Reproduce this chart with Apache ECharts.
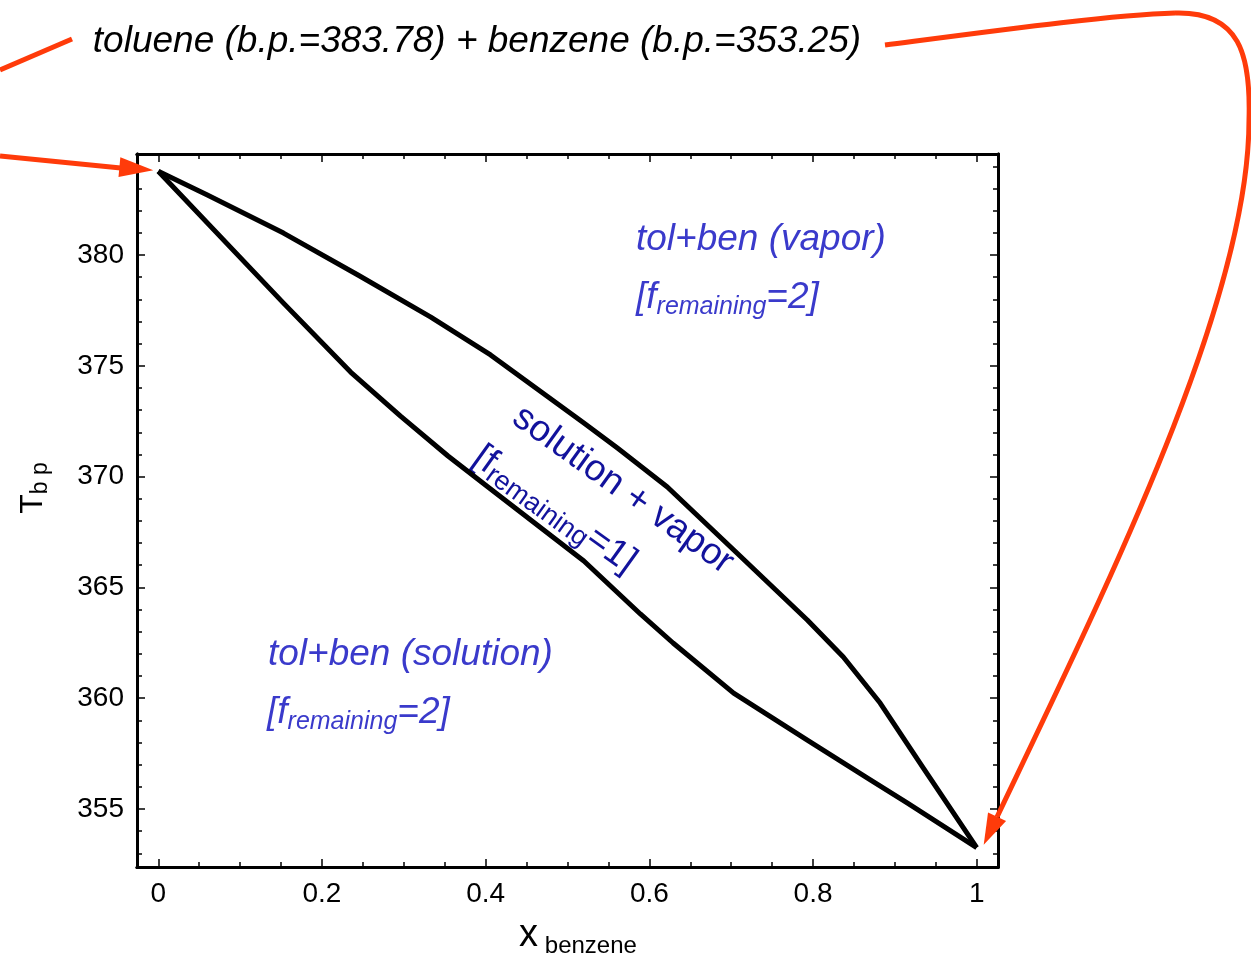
<!DOCTYPE html>
<html lang="en">
<head>
    <meta charset="UTF-8">
    <title>toluene + benzene</title>
    <script src="https://cdn.jsdelivr.net/npm/echarts@6/dist/echarts.min.js"></script>
    <style>
        html, body {
            margin: 0;
            padding: 0;
            background: #fff;
        }

        #chart {
            width: 1251px;
            height: 959px;
        }
    </style>
</head>
<body>
<div id="chart"></div>
<script>
    // liquid (bubble point) curve
    var liquidX = [0, 0.153, 0.235, 0.296, 0.354, 0.406, 0.520, 0.589, 0.629, 0.703, 0.793, 0.870, 0.915, 1]
    var liquidT = [383.78, 377.83, 374.72, 372.73, 370.93, 369.44, 366.19, 363.80, 362.49, 360.23, 358.11, 356.31, 355.27, 353.25]
    // vapor (dew point) curve
    var vaporX = [0, 0.060, 0.153, 0.244, 0.333, 0.406, 0.520, 0.561, 0.622, 0.707, 0.793, 0.837, 0.882, 0.934, 1]
    var vaporT = [383.78, 382.71, 380.99, 379.10, 377.20, 375.49, 372.42, 371.29, 369.53, 366.55, 363.53, 361.86, 359.78, 356.89, 353.25]

    // ticks
    var xMajor = [0, 0.2, 0.4, 0.6, 0.8, 1]
    var xMinor = [0.05, 0.1, 0.15, 0.25, 0.3, 0.35, 0.45, 0.5, 0.55, 0.65, 0.7, 0.75, 0.85, 0.9, 0.95]
    var yMajor = [355, 360, 365, 370, 375, 380]
    var yMinor = [353, 354, 356, 357, 358, 359, 361, 362, 363, 364, 366, 367, 368, 369, 371, 372, 373, 374, 376, 377, 378, 379, 381, 382, 383, 384]

    var xMin = -0.026, xMax = 1.026
    var yMin = 352.38, yMax = 384.56

    var RED = '#ff3b0a'
    var BLUE = '#3a3acb'
    var DARK_BLUE = '#12129c'
    var FONT = 'Liberation Sans, Arial, sans-serif'

    function zip (xs, ys) {
        return xs.map((x, i) => [x, ys[i]])
    }

    function xAxisDef (pos, ticks, len, showLabel) {
        return {
            type: 'value', min: xMin, max: xMax, position: pos,
            axisLine: {show: true, onZero: false, lineStyle: {color: '#000', width: 3}},
            axisTick: {show: true, inside: true, length: len, customValues: ticks, lineStyle: {color: '#000', width: 1.5}},
            axisLabel: {show: showLabel, customValues: ticks, margin: 13, color: '#000', fontSize: 28, fontFamily: FONT},
            splitLine: {show: false}
        }
    }

    function yAxisDef (pos, ticks, len, showLabel) {
        return {
            type: 'value', min: yMin, max: yMax, position: pos,
            axisLine: {show: true, onZero: false, lineStyle: {color: '#000', width: 3}},
            axisTick: {show: true, inside: true, length: len, customValues: ticks, lineStyle: {color: '#000', width: 1.5}},
            axisLabel: {show: showLabel, customValues: ticks, margin: 13, color: '#000', fontSize: 28, fontFamily: FONT},
            splitLine: {show: false}
        }
    }

    var chart = echarts.init(document.getElementById('chart'))
    var option = {
        animation: false,
        backgroundColor: '#fff',
        grid: {left: 137, top: 154, right: 253, bottom: 92, containLabel: false, outerBoundsMode: 'none'},
        xAxis: [
            xAxisDef('bottom', xMajor, 8, true),
            xAxisDef('bottom', xMinor, 5, false),
            xAxisDef('top', xMajor, 8, false),
            xAxisDef('top', xMinor, 5, false)
        ],
        yAxis: [
            yAxisDef('left', yMajor, 8, true),
            yAxisDef('left', yMinor, 5, false),
            yAxisDef('right', yMajor, 8, false),
            yAxisDef('right', yMinor, 5, false)
        ],
        series: [{
            name: 'vapor',
            type: 'line',
            symbol: 'none',
            lineStyle: {color: '#000', width: 5, join: 'round'},
            data: zip(vaporX, vaporT)
        }, {
            name: 'solution',
            type: 'line',
            symbol: 'none',
            lineStyle: {color: '#000', width: 5, join: 'round'},
            data: zip(liquidX, liquidT)
        }]
    }
    chart.setOption(option)

    // arrow head polygon pointing from -> tip
    function arrowHead (tip, from, len, half) {
        var dx = tip[0] - from[0], dy = tip[1] - from[1]
        var d = Math.sqrt(dx * dx + dy * dy)
        var ux = dx / d, uy = dy / d
        var bx = tip[0] - ux * len, by = tip[1] - uy * len
        return {
            type: 'polygon', z: 20,
            shape: {points: [tip, [bx - uy * half, by + ux * half], [bx + uy * half, by - ux * half]]},
            style: {fill: RED}
        }
    }

    function curve (p0, c1, c2, p1) {
        return {
            type: 'bezierCurve', z: 20,
            shape: {x1: p0[0], y1: p0[1], cpx1: c1[0], cpy1: c1[1], cpx2: c2[0], cpy2: c2[1], x2: p1[0], y2: p1[1]},
            style: {stroke: RED, lineWidth: 5, fill: null}
        }
    }

    var tolPt = chart.convertToPixel({xAxisIndex: 0, yAxisIndex: 0}, [vaporX[0], vaporT[0]])
    var benPt = chart.convertToPixel({xAxisIndex: 0, yAxisIndex: 0}, [vaporX[vaporX.length - 1], vaporT[vaporT.length - 1]])
    var tolTip = [tolPt[0] - 5, tolPt[1] - 1]
    var benTip = [benPt[0] + 7, benPt[1] - 3]

    var subRich = function (color, italic, main, sub, subLine) {
        return {
            m: {fontSize: main, fontStyle: italic, fontFamily: FONT, fill: color, color: color, lineHeight: main + 6},
            s: {fontSize: sub, fontStyle: italic, fontFamily: FONT, fill: color, color: color, lineHeight: subLine || 18, verticalAlign: 'bottom'}
        }
    }

    // long arrow from the title round to the benzene end point
    var topPt = [1175, 13]
    var bendPt = [1249, 120]
    var arrowEnd = [997, 817]

    chart.setOption({
        graphic: [
            // title
            {
                type: 'text', x: 477, y: 42, z: 30,
                style: {
                    text: 'toluene (b.p.=383.78) + benzene (b.p.=353.25)',
                    font: 'italic 37px ' + FONT, fill: '#000', align: 'center', verticalAlign: 'middle'
                }
            },
            // y axis title
            {
                type: 'text', x: 33, y: 488, rotation: Math.PI / 2, z: 30,
                style: {
                    text: '{m|T}{s|b p}', align: 'center', verticalAlign: 'middle',
                    rich: subRich('#000', 'normal', 32, 23)
                }
            },
            // x axis title
            {
                type: 'text', x: 578, y: 936, z: 30,
                style: {
                    text: '{m|x}  {s|benzene}', align: 'center', verticalAlign: 'middle',
                    rich: subRich('#000', 'normal', 38, 24)
                }
            },
            // region labels
            {
                type: 'text', x: 636, y: 240, z: 30,
                style: {text: 'tol+ben (vapor)', font: 'italic 37px ' + FONT, fill: BLUE, align: 'left', verticalAlign: 'middle'}
            },
            {
                type: 'text', x: 636, y: 298, z: 30,
                style: {text: '{m|[f}{s|remaining}{m|=2]}', align: 'left', verticalAlign: 'middle', rich: subRich(BLUE, 'italic', 37, 25)}
            },
            {
                type: 'text', x: 268, y: 655, z: 30,
                style: {text: 'tol+ben (solution)', font: 'italic 37px ' + FONT, fill: BLUE, align: 'left', verticalAlign: 'middle'}
            },
            {
                type: 'text', x: 267, y: 713, z: 30,
                style: {text: '{m|[f}{s|remaining}{m|=2]}', align: 'left', verticalAlign: 'middle', rich: subRich(BLUE, 'italic', 37, 25)}
            },
            // two phase label, rotated along the lens
            {
                type: 'group', x: 623, y: 490, rotation: -0.622, z: 30,
                children: [{
                    type: 'text', x: 0, y: 0,
                    style: {text: 'solution + vapor', font: '37px ' + FONT, fill: DARK_BLUE, align: 'center', verticalAlign: 'middle'}
                }, {
                    type: 'text', x: -140, y: 56,
                    style: {text: '{m|[f}{s|remaining}{m|=1]}', align: 'left', verticalAlign: 'middle', rich: subRich(DARK_BLUE, 'normal', 37, 27, 16)}
                }]
            },
            // red arrows
            {
                type: 'line', z: 20,
                shape: {x1: 0, y1: 70, x2: 72, y2: 39},
                style: {stroke: RED, lineWidth: 5}
            },
            {
                type: 'line', z: 20,
                shape: {x1: 0, y1: 156, x2: tolTip[0] - 30, y2: tolTip[1] - 2},
                style: {stroke: RED, lineWidth: 5}
            },
            arrowHead(tolTip, [0, 156], 34, 10),
            curve([885, 45], [1000, 30], [1110, 15], topPt),
            curve(topPt, [1240, 11], [1251, 55], bendPt),
            curve(bendPt, [1249, 300], [1110, 580], arrowEnd),
            arrowHead(benTip, [1110, 580], 31, 10)
        ]
    })
</script>
</body>
</html>
